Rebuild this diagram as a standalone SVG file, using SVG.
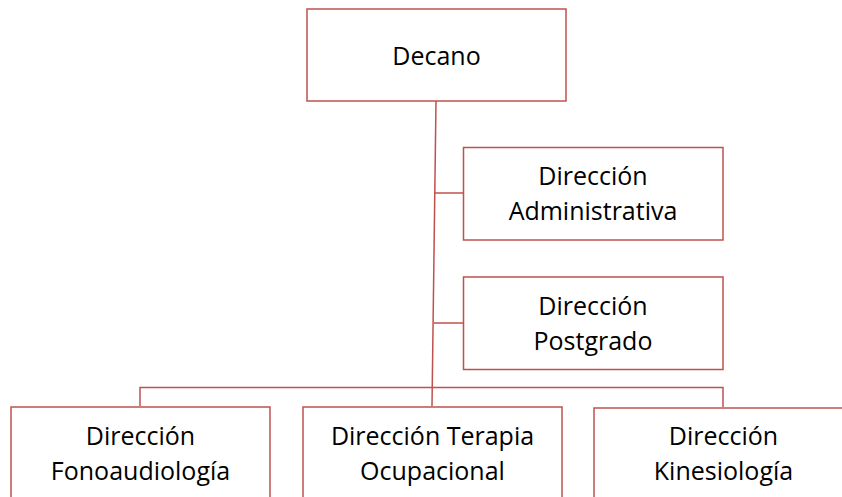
<svg xmlns="http://www.w3.org/2000/svg" width="842" height="497" viewBox="0 0 842 497">
<style>
.box{fill:#fff;stroke:#C0504D;stroke-width:1.5}
.con{fill:none;stroke:#C0504D;stroke-width:1.5}
text{font-family:"Open Sans","Noto Sans",sans-serif;font-size:25px;fill:#000;text-anchor:middle}
</style>
<rect width="842" height="497" fill="#fff"/>
<g id="connectors">
<path class="con" d="M436,101 L432,406"/>
<path class="con" d="M435,193 H463"/>
<path class="con" d="M434,323 H463"/>
<path class="con" d="M140,406 V387.5 H723 V407"/>
</g>
<g id="decano"><rect class="box" x="307" y="9" width="259" height="92"/><text x="436.5" y="65">Decano</text></g>
<g id="admin"><rect class="box" x="463.5" y="147.5" width="259.5" height="92.5"/><text x="593" y="185">Dirección</text><text x="593" y="220">Administrativa</text></g>
<g id="postgrado"><rect class="box" x="463.5" y="277" width="259.5" height="92.5"/><text x="593" y="315">Dirección</text><text x="593" y="350">Postgrado</text></g>
<g id="fono"><rect class="box" x="11" y="407" width="259" height="100"/><text x="140.5" y="445">Dirección</text><text x="140.5" y="480">Fonoaudiología</text></g>
<g id="terapia"><rect class="box" x="303" y="407" width="259" height="100"/><text x="432.5" y="445">Dirección Terapia</text><text x="432.5" y="480">Ocupacional</text></g>
<g id="kine"><rect class="box" x="594" y="408" width="259" height="100"/><text x="723.5" y="445">Dirección</text><text x="723.5" y="480">Kinesiología</text></g>
</svg>
